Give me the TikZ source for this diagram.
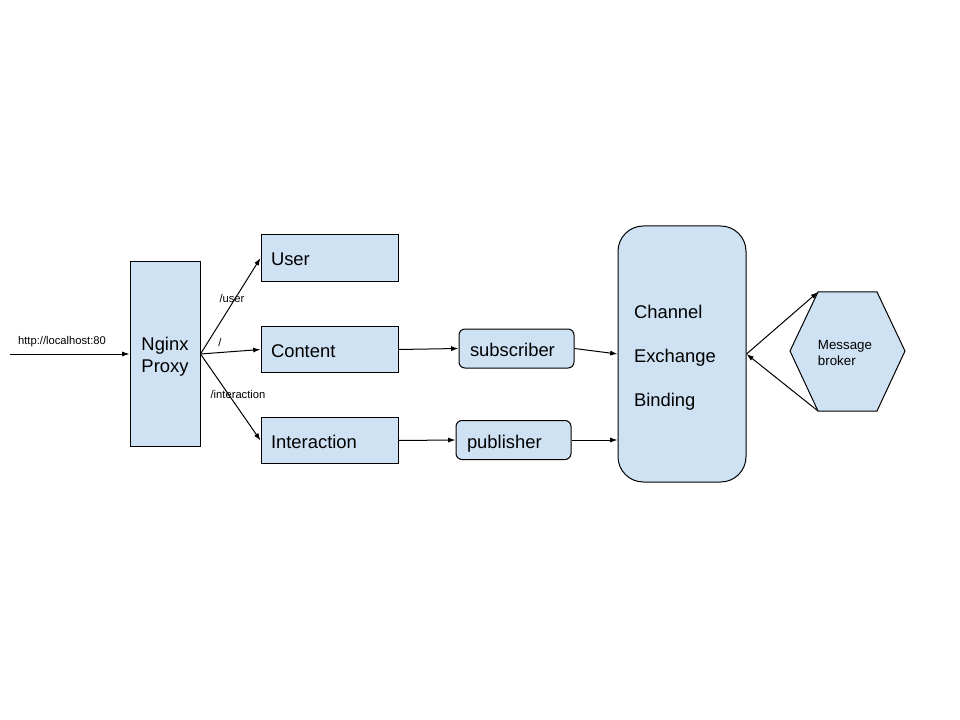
\documentclass[tikz,border=0pt]{standalone}
\usepackage{fontspec}
\setmainfont{Liberation Sans}
\usetikzlibrary{arrows.meta}
\definecolor{boxblue}{HTML}{CFE2F3}
\tikzset{
  box/.style={draw=black, fill=boxblue, line width=0.75pt, inner sep=0pt},
  svc/.style={box, minimum width=102.75pt, minimum height=35pt,
    text width=87.75pt, text height=11.8pt, text depth=0pt, align=left,
    font=\fontsize{13.8}{16}\selectfont},
  pill/.style={box, rounded corners=4.5pt, minimum width=86.25pt, minimum height=29.25pt,
    text width=69.75pt, text height=12pt, text depth=0pt, align=left,
    font=\fontsize{13.8}{16}\selectfont},
  small/.style={inner sep=0pt, font=\fontsize{8.4}{10}\selectfont},
  link/.style={line width=0.75pt, -{Latex[length=5.5pt,width=3.8pt]}},
}
\begin{document}
\begin{tikzpicture}[x=0.75pt, y=-0.75pt]
  \useasboundingbox (0,0) rectangle (960,720);

  % proxy and incoming request
  \node[box, minimum width=52.5pt, minimum height=138pt] (nginx) at (165,354) {};
  \node[inner sep=0pt, align=center, font=\fontsize{13.8}{16.5}\selectfont]
        (nginxtext) at (165,357) {Nginx\\Proxy};
  \coordinate (in) at (10,354);
  \draw[link] (in) -- (nginx.west);
  \node[small] (url) at (62,342) {http://localhost:80};

  % services
  \node[svc] (user) at (329.5,258) {User};
  \node[svc] (content) at (329.5,349.5) {Content};
  \node[svc] (inter) at (329.5,440.5) {Interaction};

  \draw[link] (nginx.east) -- (user.west);
  \draw[link] (nginx.east) -- (content.west);
  \draw[link] (nginx.east) -- (inter.west);
  \node[small] (luser) at (232,298) {/user};
  \node[small] (lroot) at (220,342) {/};
  \node[small] (linter) at (238,394) {/interaction};

  % messaging clients
  \node[pill] (sub) at (516.5,348.5) {subscriber};
  \node[pill] (pub) at (513.5,440) {publisher};
  \draw[link] (content.east) -- (sub.west);
  \draw[link] (inter.east) -- (pub.west);

  % broker abstractions
  \node[box, rounded corners=19pt, minimum width=96pt, minimum height=192pt]
        (amqp) at (682,354) {};
  \node[inner sep=0pt, text width=72pt, align=left, font=\fontsize{13.8}{33}\selectfont]
        (amqptext) at (682,358) {Channel\\Exchange\\Binding};
  \draw[link] (sub.east) -- (amqp.west);
  \draw[link] (pub.east) -- (pub.east -| amqp.west);

  % message broker hexagon
  \coordinate (htl) at (818,292);
  \coordinate (htr) at (877,292);
  \coordinate (hr) at (905,351);
  \coordinate (hbr) at (877,411);
  \coordinate (hbl) at (818,411);
  \coordinate (hl) at (790,351);
  \draw[box] (htl) -- (htr) -- (hr) -- (hbr) -- (hbl) -- (hl) -- cycle;
  \node[inner sep=0pt, align=left, font=\fontsize{10}{12}\selectfont]
        (broker) at (845,353) {Message\\broker};
  \draw[link] (amqp.east) -- (htl);
  \draw[link] (hbl) -- (amqp.east);
\end{tikzpicture}
\end{document}
